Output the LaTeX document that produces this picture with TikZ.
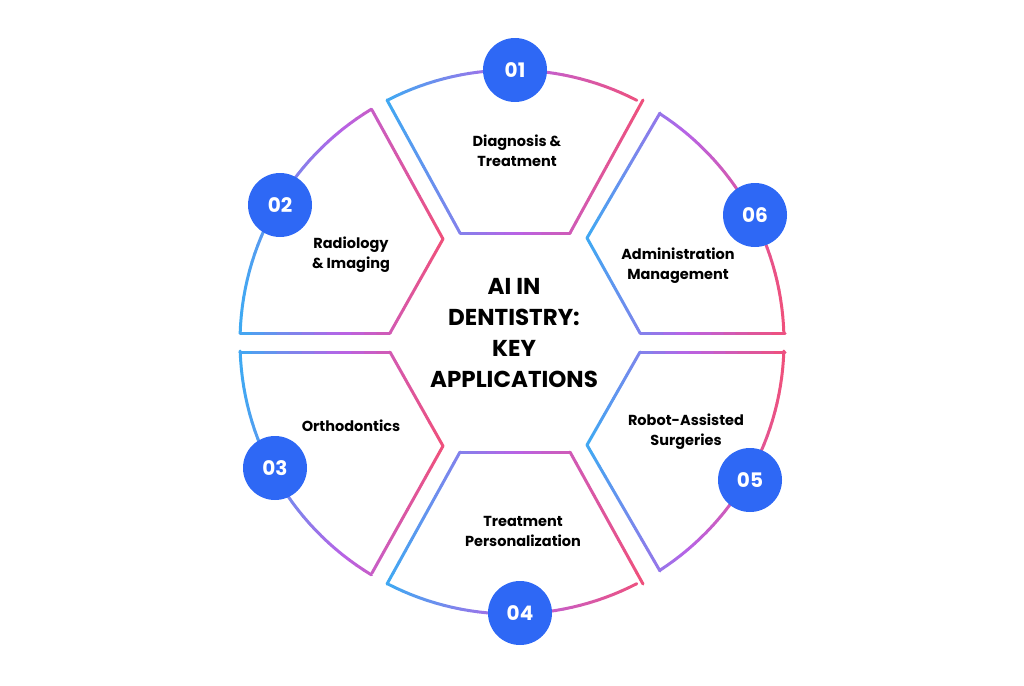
\documentclass[tikz,border=0pt]{standalone}
\usepackage{fontspec}
\setmainfont{Poppins}
\definecolor{gblue}{HTML}{3FA9F2}
\definecolor{gpur}{HTML}{B763E6}
\definecolor{gpink}{HTML}{F0507A}
\definecolor{nblue}{HTML}{2E68F5}
\newcommand\GC[3]{%
 \pgfmathsetmacro\gt{max(0,min(1,(#1-#2)/(#3-#2)))}%
 \ifdim\gt pt<0.5pt
  \pgfmathsetmacro\gp{int(200*\gt)}\colorlet{gc}{gpur!\gp!gblue}%
 \else
  \pgfmathsetmacro\gp{int(200*\gt-100)}\colorlet{gc}{gpink!\gp!gpur}%
 \fi}
\newcommand\GL[6]{%
 \foreach \i in {1,...,12}{%
  \pgfmathsetmacro\ax{#1+(#3-#1)*(\i-1)/12}%
  \pgfmathsetmacro\ay{#2+(#4-#2)*(\i-1)/12}%
  \pgfmathsetmacro\bx{#1+(#3-#1)*\i/12}%
  \pgfmathsetmacro\by{#2+(#4-#2)*\i/12}%
  \GC{(\ax+\bx)/2}{#5}{#6}%
  \draw[seg,draw=gc] (\ax,\ay)--(\bx,\by);}}
\newcommand\GA[4]{%
 \foreach \i in {1,...,30}{%
  \pgfmathsetmacro\aa{#1+(#2-#1)*(\i-1)/30}%
  \pgfmathsetmacro\ab{#1+(#2-#1)*\i/30}%
  \pgfmathsetmacro\ax{512+272*cos(\aa)}\pgfmathsetmacro\ay{342-272*sin(\aa)}%
  \pgfmathsetmacro\bx{512+272*cos(\ab)}\pgfmathsetmacro\by{342-272*sin(\ab)}%
  \GC{(\ax+\bx)/2}{#3}{#4}%
  \draw[seg,draw=gc] (\ax,\ay)--(\bx,\by);}}
\begin{document}
\begin{tikzpicture}[x=1pt,y=-1pt,
 seg/.style={line width=3pt,line cap=round},
 num/.style={circle,fill=nblue,minimum size=64pt,inner sep=0pt,text=white,font=\fontsize{20}{20}\selectfont\bfseries},
 lab/.style={align=center,font=\fontsize{14.5}{20}\selectfont\bfseries,text=black}]
\useasboundingbox (0,0) rectangle (1024,685);
% top
\GA{117.3}{62.7}{387}{643}
\GL{387}{100}{460}{233}{387}{643}
\GL{460}{233}{570}{233}{387}{643}
\GL{570}{233}{643}{100}{387}{643}
% right upper
\GA{57.1}{1.9}{587}{785}
\GL{660}{113}{587}{238}{587}{785}
\GL{587}{238}{640}{333}{587}{785}
\GL{640}{333}{785}{333}{587}{785}
% right lower
\GA{-1.9}{-57.1}{587}{785}
\GL{785}{352}{640}{352}{587}{785}
\GL{640}{352}{587}{445}{587}{785}
\GL{587}{445}{660}{571}{587}{785}
% bottom
\GA{-62.7}{-117.3}{387}{643}
\GL{387}{584}{460}{452}{387}{643}
\GL{460}{452}{570}{452}{387}{643}
\GL{570}{452}{643}{584}{387}{643}
% left lower
\GA{-121.1}{-178.1}{240}{443}
\GL{240}{352}{390}{352}{240}{443}
\GL{390}{352}{443}{446}{240}{443}
\GL{443}{446}{372}{573}{240}{443}
% left upper
\GA{178.1}{121.1}{240}{443}
\GL{240}{333}{390}{333}{240}{443}
\GL{390}{333}{443}{239}{240}{443}
\GL{443}{239}{372}{110}{240}{443}
% numbers
\node[num] (n1) at (515,70) {01};
\node[num] (n2) at (280,205) {02};
\node[num] (n3) at (275,468) {03};
\node[num] (n4) at (520,613) {04};
\node[num] (n5) at (750,480) {05};
\node[num] (n6) at (755,215) {06};
% labels
\node[lab] (l1) at (517,151) {Diagnosis \&\\Treatment};
\node[lab] (l2) at (351,255) {Radiology\\\& Imaging};
\node[lab] (l3) at (351,426) {Orthodontics};
\node[lab] (l4) at (523,531) {Treatment\\Personalization};
\node[lab] (l5) at (686,432) {Robot-Assisted\\Surgeries};
\node[lab] (l6) at (678,266) {Administration\\Management};
\node[align=center,font=\fontsize{23}{31}\selectfont\bfseries] (t) at (514,333) {AI IN\\DENTISTRY:\\KEY\\APPLICATIONS};
\end{tikzpicture}
\end{document}
